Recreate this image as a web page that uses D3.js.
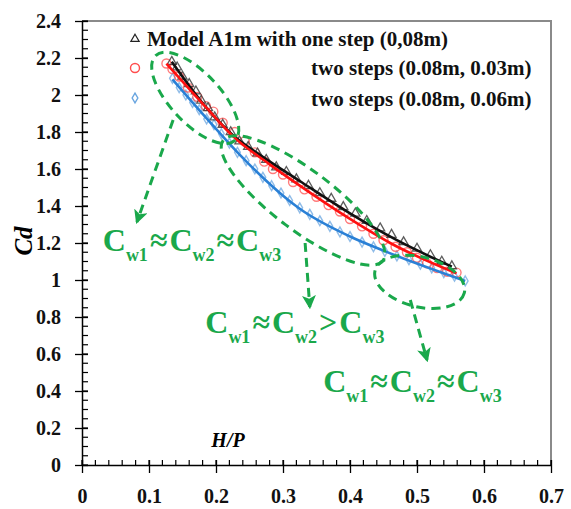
<!DOCTYPE html>
<html>
<head>
<meta charset="utf-8">
<script src="https://cdn.jsdelivr.net/npm/d3@7"></script>
<style>
  body { margin: 0; background: #fff; }
  text { font-family: "Liberation Serif", "Times New Roman", serif; font-weight: bold; }
</style>
</head>
<body>
<svg id="chart" width="571" height="509"></svg>
<script>
// axis ticks
const xTicks = [0, 0.1, 0.2, 0.3, 0.4, 0.5, 0.6, 0.7];
const yTicks = [0, 0.2, 0.4, 0.6, 0.8, 1, 1.2, 1.4, 1.6, 1.8, 2, 2.2, 2.4];

// series names (legend)
const seriesNames = ["Model A1m with one step (0,08m)", "two steps (0.08m, 0.03m)", "two steps (0.08m, 0.06m)"];

// one step (0,08m) - triangles
const oneStepHP = [0.134, 0.142, 0.150, 0.160, 0.170, 0.178, 0.188, 0.198, 0.210, 0.222, 0.235, 0.248, 0.262, 0.275, 0.290,
                   0.305, 0.320, 0.338, 0.355, 0.372, 0.390, 0.408, 0.425, 0.445, 0.462, 0.480, 0.500, 0.520, 0.537, 0.552];
const oneStepCd = [2.18, 2.15, 2.10, 2.06, 2.02, 1.97, 1.93, 1.88, 1.84, 1.80, 1.75, 1.72, 1.685, 1.65, 1.61,
                   1.585, 1.545, 1.51, 1.47, 1.44, 1.395, 1.36, 1.32, 1.28, 1.245, 1.205, 1.17, 1.135, 1.10, 1.075];

// two steps (0.08m, 0.03m) - circles
const twoStepsAHP = [0.126, 0.135, 0.145, 0.158, 0.172, 0.185, 0.196, 0.210, 0.228, 0.243, 0.258, 0.272, 0.285, 0.300, 0.315,
                     0.332, 0.350, 0.368, 0.385, 0.400, 0.418, 0.435, 0.450, 0.468, 0.485, 0.500, 0.515, 0.530, 0.545, 0.559];
const twoStepsACd = [2.17, 2.14, 2.10, 2.04, 1.99, 1.94, 1.91, 1.85, 1.80, 1.75, 1.69, 1.64, 1.60, 1.57, 1.53,
                     1.49, 1.45, 1.405, 1.37, 1.33, 1.29, 1.25, 1.215, 1.18, 1.15, 1.12, 1.09, 1.065, 1.045, 1.04];

// two steps (0.08m, 0.06m) - diamonds
const twoStepsBHP = [0.135, 0.145, 0.155, 0.165, 0.175, 0.186, 0.197, 0.208, 0.220, 0.232, 0.245, 0.258, 0.270, 0.283, 0.297, 0.310,
                     0.325, 0.340, 0.355, 0.370, 0.385, 0.400, 0.418, 0.435, 0.452, 0.470, 0.488, 0.505, 0.522, 0.540, 0.556, 0.572];
const twoStepsBCd = [2.09, 2.04, 2.00, 1.96, 1.92, 1.87, 1.84, 1.79, 1.74, 1.69, 1.645, 1.60, 1.555, 1.51, 1.47, 1.43,
                     1.39, 1.355, 1.32, 1.29, 1.26, 1.235, 1.205, 1.18, 1.155, 1.13, 1.11, 1.085, 1.065, 1.04, 1.02, 0.995];

// trend lines
const oneStepFitHP = [0.134, 0.186, 0.226, 0.26, 0.325, 0.4, 0.47, 0.552];
const oneStepFitCd = [2.18, 1.93, 1.78, 1.69, 1.535, 1.36, 1.215, 1.072];
const twoStepsAFitHP = [0.126, 0.186, 0.226, 0.28, 0.325, 0.4, 0.46, 0.559];
const twoStepsAFitCd = [2.17, 1.93, 1.775, 1.625, 1.51, 1.33, 1.2, 1.036];
const twoStepsBFitHP = [0.135, 0.186, 0.236, 0.251, 0.325, 0.4, 0.449, 0.572];
const twoStepsBFitCd = [2.085, 1.874, 1.675, 1.62, 1.385, 1.235, 1.16, 0.995];

// annotation texts
const noteA = ["C", "w1", "≈", "C", "w2", "≈", "C", "w3"];
const noteB = ["C", "w1", "≈", "C", "w2", ">", "C", "w3"];

const svg = d3.select("#chart");
const green = "#1aa84b";

const x = d3.scaleLinear().domain([0, 0.7]).range([82, 551]);
const y = d3.scaleLinear().domain([0, 2.4]).range([465, 21]);
const fmt = d => String(+d.toFixed(1));

// frame (top + right)
svg.append("path")
    .attr("d", `M${x(0)},${y(2.4)}H${x(0.7)}V${y(0)}`)
    .attr("fill", "none")
    .attr("stroke", "#8a8a8a")
    .attr("stroke-width", 2);

// y axis
const gy = svg.append("g")
    .attr("transform", `translate(${x(0)},0)`)
    .call(d3.axisLeft(y).tickValues(yTicks).tickSize(7).tickSizeOuter(0).tickPadding(14).tickFormat(fmt));
gy.selectAll(".tick")
    .append("line").attr("x1", 0).attr("x2", 6).attr("stroke", "#000");
gy.selectAll(".tick line").attr("stroke-width", 1.3);
gy.selectAll("path").attr("stroke-width", 1.5);
// minor ticks (inside)
svg.append("g").selectAll("line")
    .data(y.ticks(48))
    .join("line")
    .attr("x1", x(0)).attr("x2", x(0) + 6)
    .attr("y1", d => y(d)).attr("y2", d => y(d))
    .attr("stroke", "#000").attr("stroke-width", 1.2);

// x axis
const gx = svg.append("g")
    .attr("transform", `translate(0,${y(0)})`)
    .call(d3.axisBottom(x).tickValues(xTicks).tickSize(8).tickSizeOuter(0).tickPadding(16).tickFormat(fmt));
gx.selectAll(".tick")
    .append("line").attr("y1", 0).attr("y2", -5).attr("stroke", "#000");
gx.selectAll(".tick line").attr("stroke-width", 1.3);
gx.selectAll("path").attr("stroke-width", 1.5);
svg.append("g").selectAll("line")
    .data(x.ticks(35))
    .join("line")
    .attr("x1", d => x(d)).attr("x2", d => x(d))
    .attr("y1", y(0)).attr("y2", y(0) - 5)
    .attr("stroke", "#000").attr("stroke-width", 1.2);

[gx, gy].forEach(g => {
    g.attr("font-family", null).attr("font-size", null);
    g.selectAll("text").attr("font-size", 20).attr("fill", "#111");
});

// axis titles
svg.append("text")
    .attr("transform", `translate(32,${y(1.2) - 2}) rotate(-90)`)
    .attr("text-anchor", "middle")
    .attr("font-size", 25)
    .attr("font-style", "italic")
    .text("Cd");
svg.append("text")
    .attr("x", 228).attr("y", 447)
    .attr("text-anchor", "middle")
    .attr("font-size", 20)
    .attr("font-style", "italic")
    .text("H/P");

// markers
const zip = (a, b) => a.map((v, i) => [v, b[i]]);
const triangle = d3.symbol().type(d3.symbolTriangle).size(36);
const diamond = d3.symbol().type(d3.symbolDiamond).size(28);

svg.append("g").selectAll("path")
    .data(zip(twoStepsBHP, twoStepsBCd))
    .join("path")
    .attr("d", diamond)
    .attr("transform", d => `translate(${x(d[0])},${y(d[1])})`)
    .attr("fill", "none").attr("stroke", "#6aa6e0").attr("stroke-width", 1.4).attr("opacity", 0.75);

svg.append("g").selectAll("circle")
    .data(zip(twoStepsAHP, twoStepsACd))
    .join("circle")
    .attr("cx", d => x(d[0])).attr("cy", d => y(d[1])).attr("r", 4.5)
    .attr("fill", "none").attr("stroke", "#ff4d4d").attr("stroke-width", 1.4).attr("opacity", 0.75);

svg.append("g").selectAll("path")
    .data(zip(oneStepHP, oneStepCd))
    .join("path")
    .attr("d", triangle)
    .attr("transform", d => `translate(${x(d[0])},${y(d[1])})`)
    .attr("fill", "none").attr("stroke", "#333").attr("stroke-width", 1.3).attr("opacity", 0.8);

// trend lines
const line = d3.line().x(d => x(d[0])).y(d => y(d[1])).curve(d3.curveMonotoneX);
[[oneStepFitHP, oneStepFitCd, "#111"],
 [twoStepsAFitHP, twoStepsAFitCd, "#ff1010"],
 [twoStepsBFitHP, twoStepsBFitCd, "#2a80d6"]].forEach(([hp, cd, c]) => {
    svg.append("path")
        .attr("d", line(zip(hp, cd)))
        .attr("fill", "none").attr("stroke", c).attr("stroke-width", 2.6);
});

// legend
svg.append("path").attr("d", d3.symbol().type(d3.symbolTriangle).size(30))
    .attr("transform", "translate(135,39)")
    .attr("fill", "none").attr("stroke", "#222").attr("stroke-width", 1.2);
svg.append("circle").attr("cx", 135).attr("cy", 68).attr("r", 4.5)
    .attr("fill", "none").attr("stroke", "#ff4d4d").attr("stroke-width", 1.4);
svg.append("path").attr("d", diamond)
    .attr("transform", "translate(135,98)")
    .attr("fill", "none").attr("stroke", "#6aa6e0").attr("stroke-width", 1.4);
svg.append("text").attr("x", 147).attr("y", 46).attr("font-size", 21).attr("fill", "#111").text(seriesNames[0]);
svg.append("text").attr("x", 311).attr("y", 75).attr("font-size", 21).attr("fill", "#111").text(seriesNames[1]);
svg.append("text").attr("x", 311).attr("y", 106).attr("font-size", 21).attr("fill", "#111").text(seriesNames[2]);

// green annotations
const defs = svg.append("defs");
defs.append("marker")
    .attr("id", "arrow")
    .attr("viewBox", "0 0 12 12")
    .attr("refX", 10).attr("refY", 6)
    .attr("markerWidth", 14).attr("markerHeight", 14)
    .attr("markerUnits", "userSpaceOnUse")
    .attr("orient", "auto")
    .append("path")
    .attr("d", "M0,0L12,6L0,12L3,6Z")
    .attr("fill", green);

const ellipses = [
    { c: [0.169, 1.984], rx: 58, ry: 25, a: 47 },
    { c: [0.330, 1.430], rx: 100, ry: 30, a: 37 },
    { c: [0.504, 0.990], rx: 46, ry: 25, a: 14 }
];
svg.append("g").selectAll("ellipse")
    .data(ellipses)
    .join("ellipse")
    .attr("transform", d => `translate(${x(d.c[0])},${y(d.c[1])}) rotate(${d.a})`)
    .attr("rx", d => d.rx).attr("ry", d => d.ry)
    .attr("fill", "none").attr("stroke", green).attr("stroke-width", 3).attr("stroke-dasharray", "9,6");

const arrows = [
    [[0.136, 1.865], [0.082, 1.314]],
    [[0.333, 1.200], [0.340, 0.854]],
    [[0.490, 0.892], [0.515, 0.568]]
];
svg.append("g").selectAll("line")
    .data(arrows)
    .join("line")
    .attr("x1", d => x(d[0][0])).attr("y1", d => y(d[0][1]))
    .attr("x2", d => x(d[1][0])).attr("y2", d => y(d[1][1]))
    .attr("stroke", green).attr("stroke-width", 3).attr("stroke-dasharray", "9,6")
    .attr("marker-end", "url(#arrow)");

function note(parts, hp, cd) {
    const t = svg.append("text").attr("x", x(hp)).attr("y", y(cd)).attr("fill", green);
    parts.forEach((p, i) => {
        const sub = i % 3 === 1;
        const s = t.append("tspan").text(p).attr("font-size", sub ? 18 : 32);
        if (sub) s.attr("dy", 10);
        else if (i % 3 === 2) s.attr("dy", -10).attr("dx", 2);
        else if (i > 0) s.attr("dx", 2);
    });
}
note(noteA, 0.031, 1.157);
note(noteB, 0.184, 0.714);
note(noteA, 0.360, 0.395);
</script>
</body>
</html>
